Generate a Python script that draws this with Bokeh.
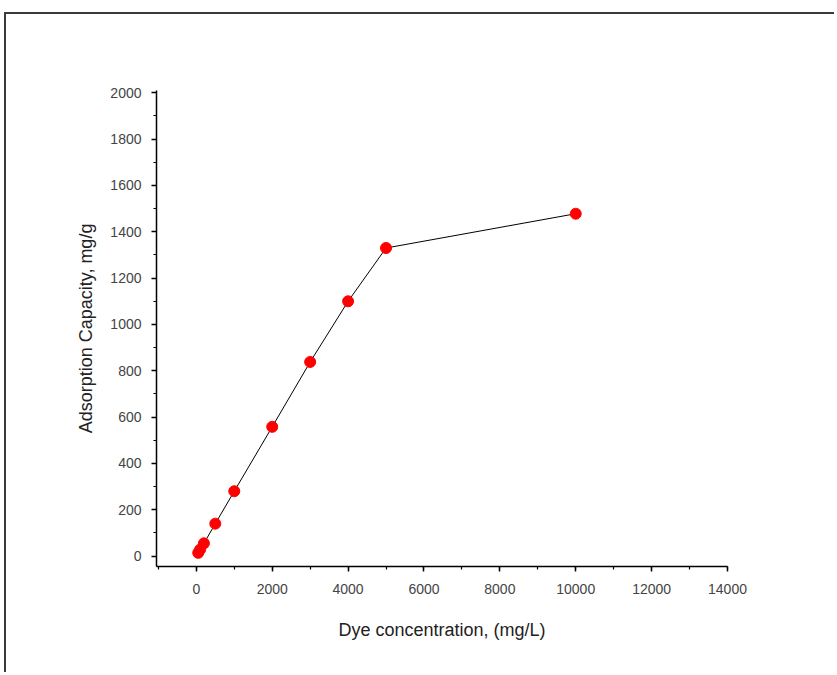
from bokeh.plotting import figure
from bokeh.models import Range1d, SingleIntervalTicker
from bokeh.embed import file_html
from bokeh.resources import INLINE

conc = [50, 100, 200, 500, 1000, 2000, 3000, 4000, 5000, 10000]
capacity = [14, 28, 55, 140, 280, 558, 838, 1100, 1330, 1478]

FONT = "Liberation Sans"

p = figure(width=830, height=660, output_backend="svg", toolbar_location=None,
           x_range=Range1d(-1050, 14000), y_range=Range1d(-45, 2010),
           min_border_left=150, min_border_right=109, min_border_top=76, min_border_bottom=108,
           styles={"border-left": "2px solid #3a3a3a", "border-top": "2px solid #3a3a3a",
                   "margin-left": "4px", "margin-top": "12px"})
p.outline_line_color = None
p.grid.visible = False
p.background_fill_color = "white"
p.border_fill_color = "white"

p.line(conc, capacity, line_color="black", line_width=1)
p.scatter(conc, capacity, size=11, fill_color="#ff0000", line_color="#ff0000")

p.xaxis.ticker = SingleIntervalTicker(interval=2000, num_minor_ticks=2)
p.yaxis.ticker = SingleIntervalTicker(interval=200, num_minor_ticks=2)
p.xaxis.axis_label = "Dye concentration, (mg/L)"
p.yaxis.axis_label = "Adsorption Capacity, mg/g"
for ax in (p.xaxis, p.yaxis):
    ax.axis_line_color = "black"
    ax.axis_line_width = 1.5
    ax.major_tick_line_color = "black"
    ax.minor_tick_line_color = "black"
    ax.major_tick_line_width = 1.5
    ax.minor_tick_line_width = 1.2
    ax.major_tick_out = 5
    ax.major_tick_in = 0
    ax.minor_tick_out = 3
    ax.minor_tick_in = 0
    ax.major_label_text_font = FONT
    ax.major_label_text_font_size = "14px"
    ax.major_label_text_color = "#444444"
    ax.axis_label_text_font = FONT
    ax.axis_label_text_font_size = "18px"
    ax.axis_label_text_font_style = "normal"
    ax.axis_label_text_color = "#222222"
p.xaxis.major_label_standoff = 12
p.xaxis.axis_label_standoff = 23
p.yaxis.major_label_standoff = 10
p.yaxis.axis_label_standoff = 11

open("out.html", "w").write(file_html(p, INLINE))
